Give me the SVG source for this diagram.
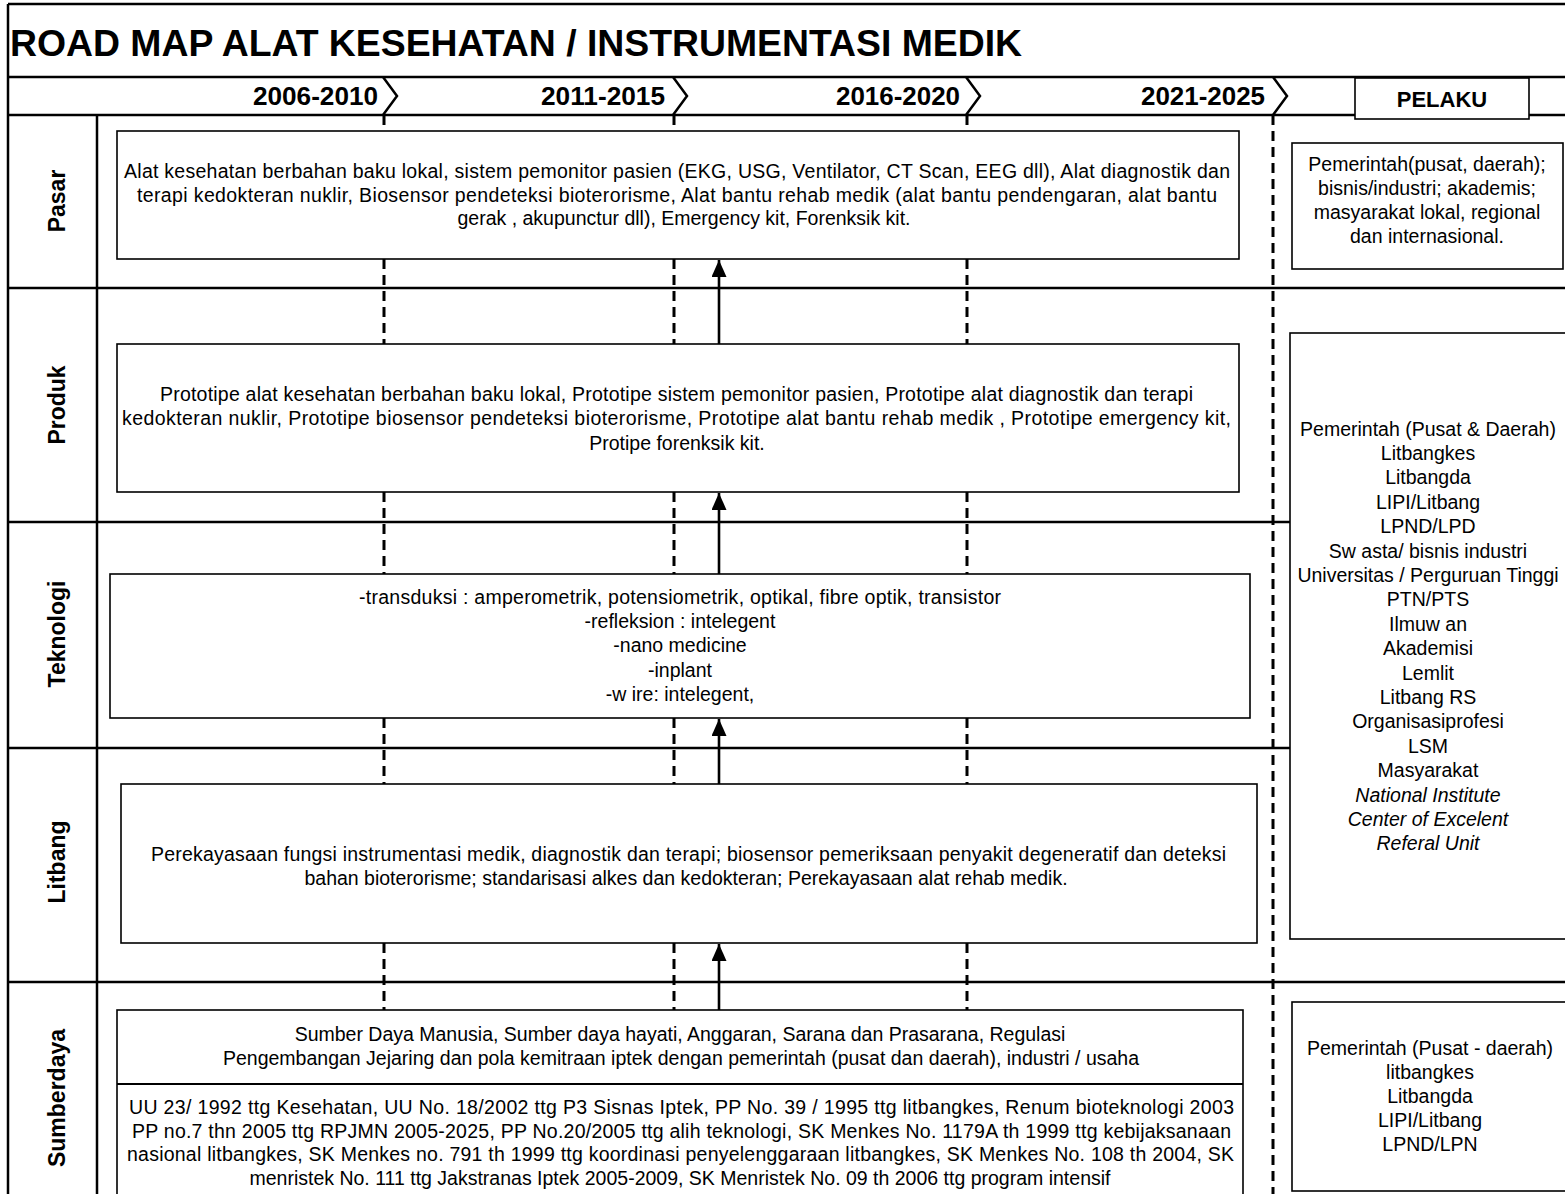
<svg xmlns="http://www.w3.org/2000/svg" width="1565" height="1194" viewBox="0 0 1565 1194">
<style>
text{font-family:"Liberation Sans",Arial,sans-serif;fill:#000}
.t{font-size:19.5px}
.c{text-anchor:middle}
.it{font-style:italic}
.h{font-weight:bold}
.frame{stroke:#000;stroke-width:2.5;fill:none}
.box{fill:#fff;stroke:#000;stroke-width:1.6}
.dash{stroke:#000;stroke-width:3;stroke-dasharray:10 6;fill:none}
.arr{stroke:#000;stroke-width:2.6;fill:none;marker-end:url(#ah)}
.chev{stroke:#000;stroke-width:2.5;fill:none}
</style>
<defs>
<marker id="ah" viewBox="0 0 17 15" refX="17" refY="7.5" markerWidth="17" markerHeight="15" markerUnits="userSpaceOnUse" orient="auto">
<path d="M0,0 L17,7.5 L0,15 z" fill="#000"/>
</marker>
</defs>
<rect width="1565" height="1194" fill="#fff"/>

<g id="frame">
<path class="frame" d="M8 4H1565M8 4V1194M8 77H1565M8 115H1565M97 115V1194M8 288H1565M8 522H1290M8 748H1290M8 982H1565"/>
<text class="h" x="10" y="56" font-size="36" textLength="1012" lengthAdjust="spacingAndGlyphs">ROAD MAP ALAT KESEHATAN / INSTRUMENTASI MEDIK</text>
</g>

<g id="timeline">
<polyline class="chev" points="383,77 397,96 383,115"/>
<polyline class="chev" points="673,77 687,96 673,115"/>
<polyline class="chev" points="966,77 980,96 966,115"/>
<polyline class="chev" points="1273,77 1287,96 1273,115"/>
<text class="h" x="253" y="105" font-size="25" textLength="125" lengthAdjust="spacingAndGlyphs">2006-2010</text>
<text class="h" x="541" y="105" font-size="25" textLength="124" lengthAdjust="spacingAndGlyphs">2011-2015</text>
<text class="h" x="836" y="105" font-size="25" textLength="124" lengthAdjust="spacingAndGlyphs">2016-2020</text>
<text class="h" x="1141" y="105" font-size="25" textLength="124" lengthAdjust="spacingAndGlyphs">2021-2025</text>
</g>

<g id="pelaku">
<rect class="box" x="1355" y="78" width="174" height="41"/>
<text class="h c" x="1442" y="107" font-size="22">PELAKU</text>
</g>

<g id="row-labels" class="h" font-size="23">
<text class="c" transform="translate(57,201) rotate(-90)" y="8">Pasar</text>
<text class="c" transform="translate(57,405) rotate(-90)" y="8">Produk</text>
<text class="c" transform="translate(57,634) rotate(-90)" y="8">Teknologi</text>
<text class="c" transform="translate(57,862) rotate(-90)" y="8">Litbang</text>
<text class="c" transform="translate(57,1098) rotate(-90)" y="8">Sumberdaya</text>
</g>

<g id="connectors">
<path class="dash" d="M384 115V131M384 259V344M384 492V574M384 718V784M384 943V1010"/>
<path class="dash" d="M674 115V131M674 259V344M674 492V574M674 718V784M674 943V1010"/>
<path class="dash" d="M967 115V131M967 259V344M967 492V574M967 718V784M967 943V1010"/>
<path class="dash" d="M1273 115V1194"/>
<line class="arr" x1="719" y1="344" x2="719" y2="260"/>
<line class="arr" x1="719" y1="574" x2="719" y2="493"/>
<line class="arr" x1="719" y1="784" x2="719" y2="719"/>
<line class="arr" x1="719" y1="1010" x2="719" y2="944"/>
</g>

<g id="pasar">
<rect class="box" x="117" y="131" width="1122" height="128"/>
<text class="t" x="124" y="177.5" textLength="1106">Alat kesehatan berbahan baku lokal, sistem pemonitor pasien (EKG, USG, Ventilator, CT Scan, EEG dll), Alat diagnostik dan</text>
<text class="t" x="137" y="201.5" textLength="1080">terapi kedokteran nuklir,  Biosensor  pendeteksi bioterorisme,  Alat bantu rehab medik (alat bantu pendengaran, alat bantu</text>
<text class="t c" x="684" y="224.5">gerak , akupunctur dll), Emergency kit, Forenksik kit.</text>
</g>

<g id="pelaku-pasar">
<rect class="box" x="1292" y="143" width="271" height="126"/>
<text class="t c" x="1427" y="170.5">Pemerintah(pusat, daerah);</text>
<text class="t c" x="1427" y="194.5">bisnis/industri;  akademis;</text>
<text class="t c" x="1427" y="218.5">masyarakat lokal, regional</text>
<text class="t c" x="1427" y="242.5">dan internasional.</text>
</g>

<g id="produk">
<rect class="box" x="117" y="344" width="1122" height="148"/>
<text class="t" x="160" y="400.5" textLength="1033">Prototipe alat kesehatan berbahan baku lokal, Prototipe sistem pemonitor pasien, Prototipe alat diagnostik dan terapi</text>
<text class="t" x="122" y="424.5" textLength="1109">kedokteran nuklir,  Prototipe biosensor  pendeteksi bioterorisme,  Prototipe alat bantu rehab medik , Prototipe emergency kit,</text>
<text class="t c" x="677" y="449.5">Protipe forenksik kit.</text>
</g>

<g id="teknologi">
<rect class="box" x="110" y="574" width="1140" height="144"/>
<text class="t c" x="680" y="603.5" textLength="642">-transduksi : amperometrik, potensiometrik, optikal, fibre optik, transistor</text>
<text class="t c" x="680" y="627.5">-refleksion : intelegent</text>
<text class="t c" x="680" y="651.5">-nano medicine</text>
<text class="t c" x="680" y="676.5">-inplant</text>
<text class="t c" x="680" y="700.5">-w ire: intelegent,</text>
</g>

<g id="pelaku-litbang">
<rect class="box" x="1290" y="333" width="290" height="606"/>
<text class="t c" x="1428" y="435.5">Pemerintah (Pusat &amp; Daerah)</text>
<text class="t c" x="1428" y="459.9">Litbangkes</text>
<text class="t c" x="1428" y="484.3">Litbangda</text>
<text class="t c" x="1428" y="508.7">LIPI/Litbang</text>
<text class="t c" x="1428" y="533.1">LPND/LPD</text>
<text class="t c" x="1428" y="557.5">Sw asta/ bisnis industri</text>
<text class="t c" x="1428" y="581.9">Universitas / Perguruan Tinggi</text>
<text class="t c" x="1428" y="606.3">PTN/PTS</text>
<text class="t c" x="1428" y="630.7">Ilmuw an</text>
<text class="t c" x="1428" y="655.1">Akademisi</text>
<text class="t c" x="1428" y="679.5">Lemlit</text>
<text class="t c" x="1428" y="703.9">Litbang  RS</text>
<text class="t c" x="1428" y="728.3">Organisasiprofesi</text>
<text class="t c" x="1428" y="752.7">LSM</text>
<text class="t c" x="1428" y="777.1">Masyarakat</text>
<text class="t c it" x="1428" y="801.5">National Institute</text>
<text class="t c it" x="1428" y="825.9">Center of Excelent</text>
<text class="t c it" x="1428" y="850.3">Referal Unit</text>
</g>

<g id="litbang">
<rect class="box" x="121" y="784" width="1136" height="159"/>
<text class="t" x="151" y="860.5" textLength="1075">Perekayasaan fungsi instrumentasi medik, diagnostik dan terapi; biosensor pemeriksaan penyakit degeneratif dan deteksi</text>
<text class="t c" x="686" y="884.5">bahan bioterorisme; standarisasi alkes dan kedokteran; Perekayasaan alat rehab medik.</text>
</g>

<g id="sumberdaya">
<rect class="box" x="117" y="1010" width="1126" height="200"/>
<line x1="117" y1="1084" x2="1243" y2="1084" stroke="#000" stroke-width="2"/>
<text class="t c" x="680" y="1041">Sumber Daya Manusia, Sumber daya hayati, Anggaran, Sarana dan Prasarana, Regulasi</text>
<text class="t c" x="681" y="1065">Pengembangan Jejaring dan pola kemitraan iptek dengan pemerintah (pusat dan daerah), industri / usaha</text>
<text class="t" x="129" y="1114" textLength="1105">UU 23/ 1992 ttg Kesehatan, UU No. 18/2002 ttg P3 Sisnas Iptek,  PP No. 39 / 1995 ttg litbangkes,  Renum bioteknologi 2003</text>
<text class="t" x="132" y="1137.5" textLength="1099">PP no.7 thn 2005 ttg RPJMN 2005-2025, PP No.20/2005 ttg alih teknologi, SK Menkes No. 1179A th 1999 ttg kebijaksanaan</text>
<text class="t" x="127" y="1161" textLength="1107">nasional litbangkes, SK Menkes no. 791 th 1999 ttg koordinasi penyelenggaraan litbangkes, SK Menkes No. 108 th 2004, SK</text>
<text class="t c" x="680" y="1184.5">menristek No. 111 ttg Jakstranas Iptek 2005-2009, SK Menristek No. 09 th 2006 ttg program intensif</text>
</g>

<g id="pelaku-sumberdaya">
<rect class="box" x="1292" y="1002" width="290" height="189"/>
<text class="t c" x="1430" y="1055">Pemerintah (Pusat -  daerah)</text>
<text class="t c" x="1430" y="1079">litbangkes</text>
<text class="t c" x="1430" y="1103">Litbangda</text>
<text class="t c" x="1430" y="1127">LIPI/Litbang</text>
<text class="t c" x="1430" y="1151">LPND/LPN</text>
</g>
</svg>
